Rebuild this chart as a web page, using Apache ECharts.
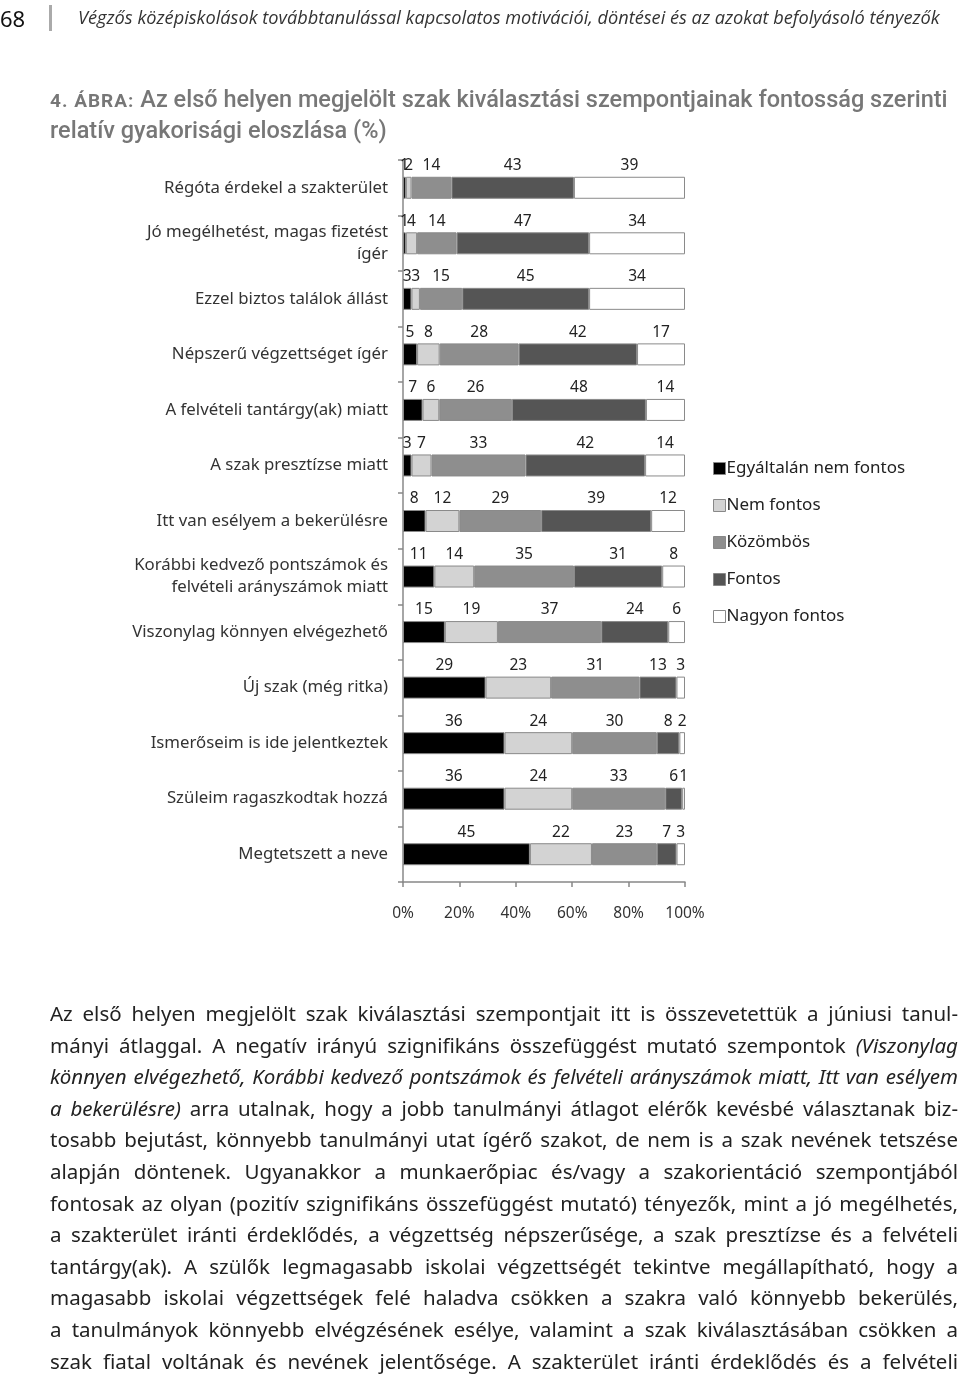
<!DOCTYPE html>
<html>
<head>
<meta charset="utf-8">
<script src="https://cdn.jsdelivr.net/npm/echarts@6/dist/echarts.min.js"></script>
<style>
  html, body { margin: 0; padding: 0; background: #fff; }
  body { width: 960px; height: 1375px; position: relative; overflow: hidden; font-family: "Noto Sans", sans-serif; }
  #chart { position: absolute; left: 0; top: 0; width: 960px; height: 1375px; }
  .txt { position: absolute; white-space: nowrap; }
  #pageno { left: 0; top: 3px; font-size: 22px; color: #111; font-family: "Noto Sans", sans-serif; }
  #bar { position: absolute; left: 49px; top: 5px; width: 3px; height: 26px; background: #aaa; }
  #running { left: 78px; top: 5px; font-size: 18.2px; font-style: italic; color: #333; font-family: "Open Sans", sans-serif; }
  .title { left: 50px; font-size: 23.5px; color: #777; font-family: "Roboto", sans-serif; font-weight: 500; }
  .title .sc { font-size: 19px; font-weight: 700; letter-spacing: 1px; }
  .para { position: absolute; left: 50px; width: 908px; font-size: 20.5px; color: #222; text-align: justify; text-align-last: justify; line-height: 31.5px; font-family: "Noto Sans", sans-serif; white-space: nowrap; }
  .para i { font-style: italic; }
</style>
</head>
<body>
<div id="chart"></div>
<div class="txt" id="pageno">68</div>
<div id="bar"></div>
<div class="txt" id="running">Végzős középiskolások továbbtanulással kapcsolatos motivációi, döntései és az azokat befolyásoló tényezők</div>
<div class="txt title" style="top:85px"><span class="sc">4. ÁBRA:</span> Az első helyen megjelölt szak kiválasztási szempontjainak fontosság szerinti</div>
<div class="txt title" style="top:116px">relatív gyakorisági eloszlása (%)</div>

<div id="paras"></div>

<script>
// ---- Data ----
const categories = [
  "Régóta érdekel a szakterület",
  "Jó megélhetést, magas fizetést\nígér",
  "Ezzel biztos találok állást",
  "Népszerű végzettséget ígér",
  "A felvételi tantárgy(ak) miatt",
  "A szak presztízse miatt",
  "Itt van esélyem a bekerülésre",
  "Korábbi kedvező pontszámok és\nfelvételi arányszámok miatt",
  "Viszonylag könnyen elvégezhető",
  "Új szak (még ritka)",
  "Ismerőseim is ide jelentkeztek",
  "Szüleim ragaszkodtak hozzá",
  "Megtetszett a neve"
];
const seriesNames = ["Egyáltalán nem fontos", "Nem fontos", "Közömbös", "Fontos", "Nagyon fontos"];
const egyaltalanNem = [1, 1, 3, 5, 7, 3, 8, 11, 15, 29, 36, 36, 45];
const nemFontos     = [2, 4, 3, 8, 6, 7, 12, 14, 19, 23, 24, 24, 22];
const kozombos      = [14, 14, 15, 28, 26, 33, 29, 35, 37, 31, 30, 33, 23];
const fontos        = [43, 47, 45, 42, 48, 42, 39, 31, 24, 13, 8, 6, 7];
const nagyonFontos  = [39, 34, 34, 17, 14, 14, 12, 8, 6, 3, 2, 1, 3];
const xTicks = ["0%", "20%", "40%", "60%", "80%", "100%"];

const paraLines = [
  "Az első helyen megjelölt szak kiválasztási szempontjait itt is összevetettük a júniusi tanul-",
  "mányi átlaggal. A negatív irányú szignifikáns összefüggést mutató szempontok <i>(Viszonylag</i>",
  "<i>könnyen elvégezhető, Korábbi kedvező pontszámok és felvételi arányszámok miatt, Itt van esélyem</i>",
  "<i>a bekerülésre)</i> arra utalnak, hogy a jobb tanulmányi átlagot elérők kevésbé választanak biz-",
  "tosabb bejutást, könnyebb tanulmányi utat ígérő szakot, de nem is a szak nevének tetszése",
  "alapján döntenek. Ugyanakkor a munkaerőpiac és/vagy a szakorientáció szempontjából",
  "fontosak az olyan (pozitív szignifikáns összefüggést mutató) tényezők, mint a jó megélhetés,",
  "a szakterület iránti érdeklődés, a végzettség népszerűsége, a szak presztízse és a felvételi",
  "tantárgy(ak). A szülők legmagasabb iskolai végzettségét tekintve megállapítható, hogy a",
  "magasabb iskolai végzettségek felé haladva csökken a szakra való könnyebb bekerülés,",
  "a tanulmányok könnyebb elvégzésének esélye, valamint a szak kiválasztásában csökken a",
  "szak fiatal voltának és nevének jelentősége. A szakterület iránti érdeklődés és a felvételi"
];

// paragraph lines
const pc = document.getElementById('paras');
paraLines.forEach((l, i) => {
  const d = document.createElement('div');
  d.className = 'para';
  d.style.top = (998 + i * 31.6) + 'px';
  d.innerHTML = l;
  pc.appendChild(d);
});

// ---- Chart ----
const raw = [egyaltalanNem, nemFontos, kozombos, fontos, nagyonFontos];
const totals = categories.map((_, i) => raw.reduce((s, arr) => s + arr[i], 0));
const fills = ["#000000", "#d3d3d3", "#8e8e8e", "#555555", "#ffffff"];

const chart = echarts.init(document.getElementById('chart'), null, { renderer: 'canvas' });
chart.setOption({
  animation: false,
  textStyle: { fontFamily: "Noto Sans" },
  grid: { left: 403, top: 160, width: 282, height: 722, containLabel: false },
  legend: {
    orient: 'vertical',
    left: 708,
    top: 455,
    itemWidth: 12,
    itemHeight: 12,
    itemGap: 20,
    icon: 'rect',
    data: seriesNames,
    textStyle: { fontSize: 17, color: '#222', padding: [0, 0, 0, -4] },
    itemStyle: { borderColor: '#888', borderWidth: 1 }
  },
  xAxis: {
    type: 'value',
    min: 0, max: 100, interval: 20,
    axisLine: { show: true, lineStyle: { color: '#888', width: 1.5 } },
    axisTick: { show: true, length: 5, lineStyle: { color: '#888', width: 1.5 } },
    splitLine: { show: false },
    axisLabel: {
      margin: 24, fontSize: 15.5, color: '#333',
      formatter: (v) => xTicks[Math.round(v / 20)]
    }
  },
  yAxis: {
    type: 'category',
    inverse: true,
    data: categories,
    axisLine: { show: true, lineStyle: { color: '#888', width: 1.5 } },
    axisTick: { show: true, length: 5, lineStyle: { color: '#888', width: 1.5 } },
    axisLabel: { margin: 15, fontSize: 16.8, color: '#333', lineHeight: 22, align: 'right' }
  },
  series: seriesNames.map((name, k) => ({
    name: name,
    type: 'bar',
    stack: 'total',
    barWidth: 22,
    data: raw[k].map((v, i) => v / totals[i] * 100),
    itemStyle: { color: fills[k], borderColor: '#8a8a8a', borderWidth: 1 },
    label: {
      show: true,
      position: 'top',
      distance: 3,
      fontSize: 15.5,
      color: '#222',
      formatter: (p) => String(raw[k][p.dataIndex])
    }
  }))
});
</script>
</body>
</html>
